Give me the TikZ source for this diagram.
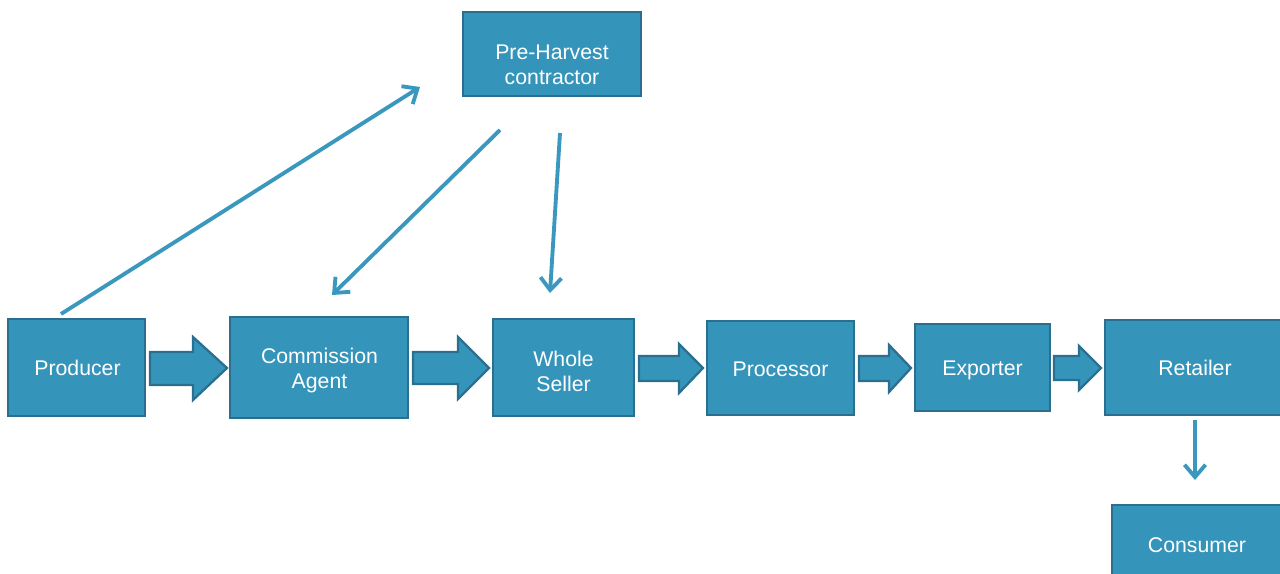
\documentclass[tikz,border=0pt]{standalone}
\usepackage{fontspec}
\setmainfont{Liberation Sans}
\usetikzlibrary{arrows.meta}
\definecolor{boxfill}{HTML}{3594BA}
\definecolor{boxline}{HTML}{2B6F8F}
\definecolor{linkcol}{HTML}{3A98BE}
\begin{document}
\begin{tikzpicture}[x=0.02cm,y=-0.02cm,
  box/.style={draw=boxline,fill=boxfill,line width=1.3pt,inner sep=0pt},
  boxtext/.style={text=white,align=center,font=\fontsize{12.1}{14.2}\selectfont,inner sep=0pt},
  blockarrow/.style={draw=boxline,fill=boxfill,line width=1.3pt,line join=miter},
  link/.style={draw=linkcol,line width=2.2pt,-{Straight Barb[length=7pt,width=12pt,line width=2.2pt]}}]
\useasboundingbox (0,0) rectangle (1280,574);
\begin{scope}
\clip (0,0) rectangle (1280,574);
\node[box,minimum width=3.56cm,minimum height=1.68cm] (pre) at (552,54) {};
\node[box,minimum width=2.74cm,minimum height=1.94cm] (prod) at (76.5,367.5) {};
\node[box,minimum width=3.56cm,minimum height=2.02cm] (comm) at (319,367.5) {};
\node[box,minimum width=2.82cm,minimum height=1.94cm] (whole) at (563.5,367.5) {};
\node[box,minimum width=2.94cm,minimum height=1.88cm] (proc) at (780.5,368) {};
\node[box,minimum width=2.70cm,minimum height=1.74cm] (exp) at (982.5,367.5) {};
\node[box,minimum width=3.56cm,minimum height=1.90cm] (ret) at (1194,367.5) {};
\node[box,minimum width=3.40cm,minimum height=1.60cm] (cons) at (1197,545) {};

\node[boxtext] (preT) at ([yshift=-0.21cm]pre.center) {Pre-Harvest\\contractor};
\node[boxtext] (prodT) at ([xshift=0.02cm]prod.center) {Producer};
\node[boxtext] (commT) at ([yshift=-0.06cm,xshift=0.01cm]comm.center) {Commission\\Agent};
\node[boxtext] (wholeT) at ([yshift=-0.07cm]whole.center) {Whole\\Seller};
\node[boxtext] (procT) at ([yshift=-0.02cm]proc.center) {Processor};
\node[boxtext] (expT) at ([yshift=-0.06cm]exp.center) {Exporter};
\node[boxtext] (retT) at ([xshift=0.02cm]ret.center) {Retailer};
\node[boxtext] (consT) at (cons.center) {Consumer};

\path[blockarrow] (150,352) -- (193,352) -- (193,337) -- (227,368) -- (193,400) -- (193,385) -- (150,385) -- cycle;
\path[blockarrow] (413,352) -- (458,352) -- (458,337) -- (489,368) -- (458,399) -- (458,384) -- (413,384) -- cycle;
\path[blockarrow] (639,356) -- (679,356) -- (679,344) -- (703,368) -- (679,393) -- (679,381) -- (639,381) -- cycle;
\path[blockarrow] (859,356) -- (889,356) -- (889,345) -- (911,368) -- (889,392) -- (889,381) -- (859,381) -- cycle;
\path[blockarrow] (1054,356) -- (1079,356) -- (1079,346) -- (1101,368) -- (1079,390) -- (1079,380) -- (1054,380) -- cycle;

\coordinate (p1) at (61,314);
\coordinate (p2) at (420,87);
\coordinate (c1) at (500,130);
\coordinate (c2) at (332,295);
\coordinate (w1) at (560,133);
\coordinate (w2) at (550,293);
\coordinate (r1) at (1195,420);
\coordinate (r2) at (1195,480);
\draw[link] (p1) -- (p2);
\draw[link] (c1) -- (c2);
\draw[link] (w1) -- (w2);
\draw[link] (r1) -- (r2);
\end{scope}
\end{tikzpicture}
\end{document}
